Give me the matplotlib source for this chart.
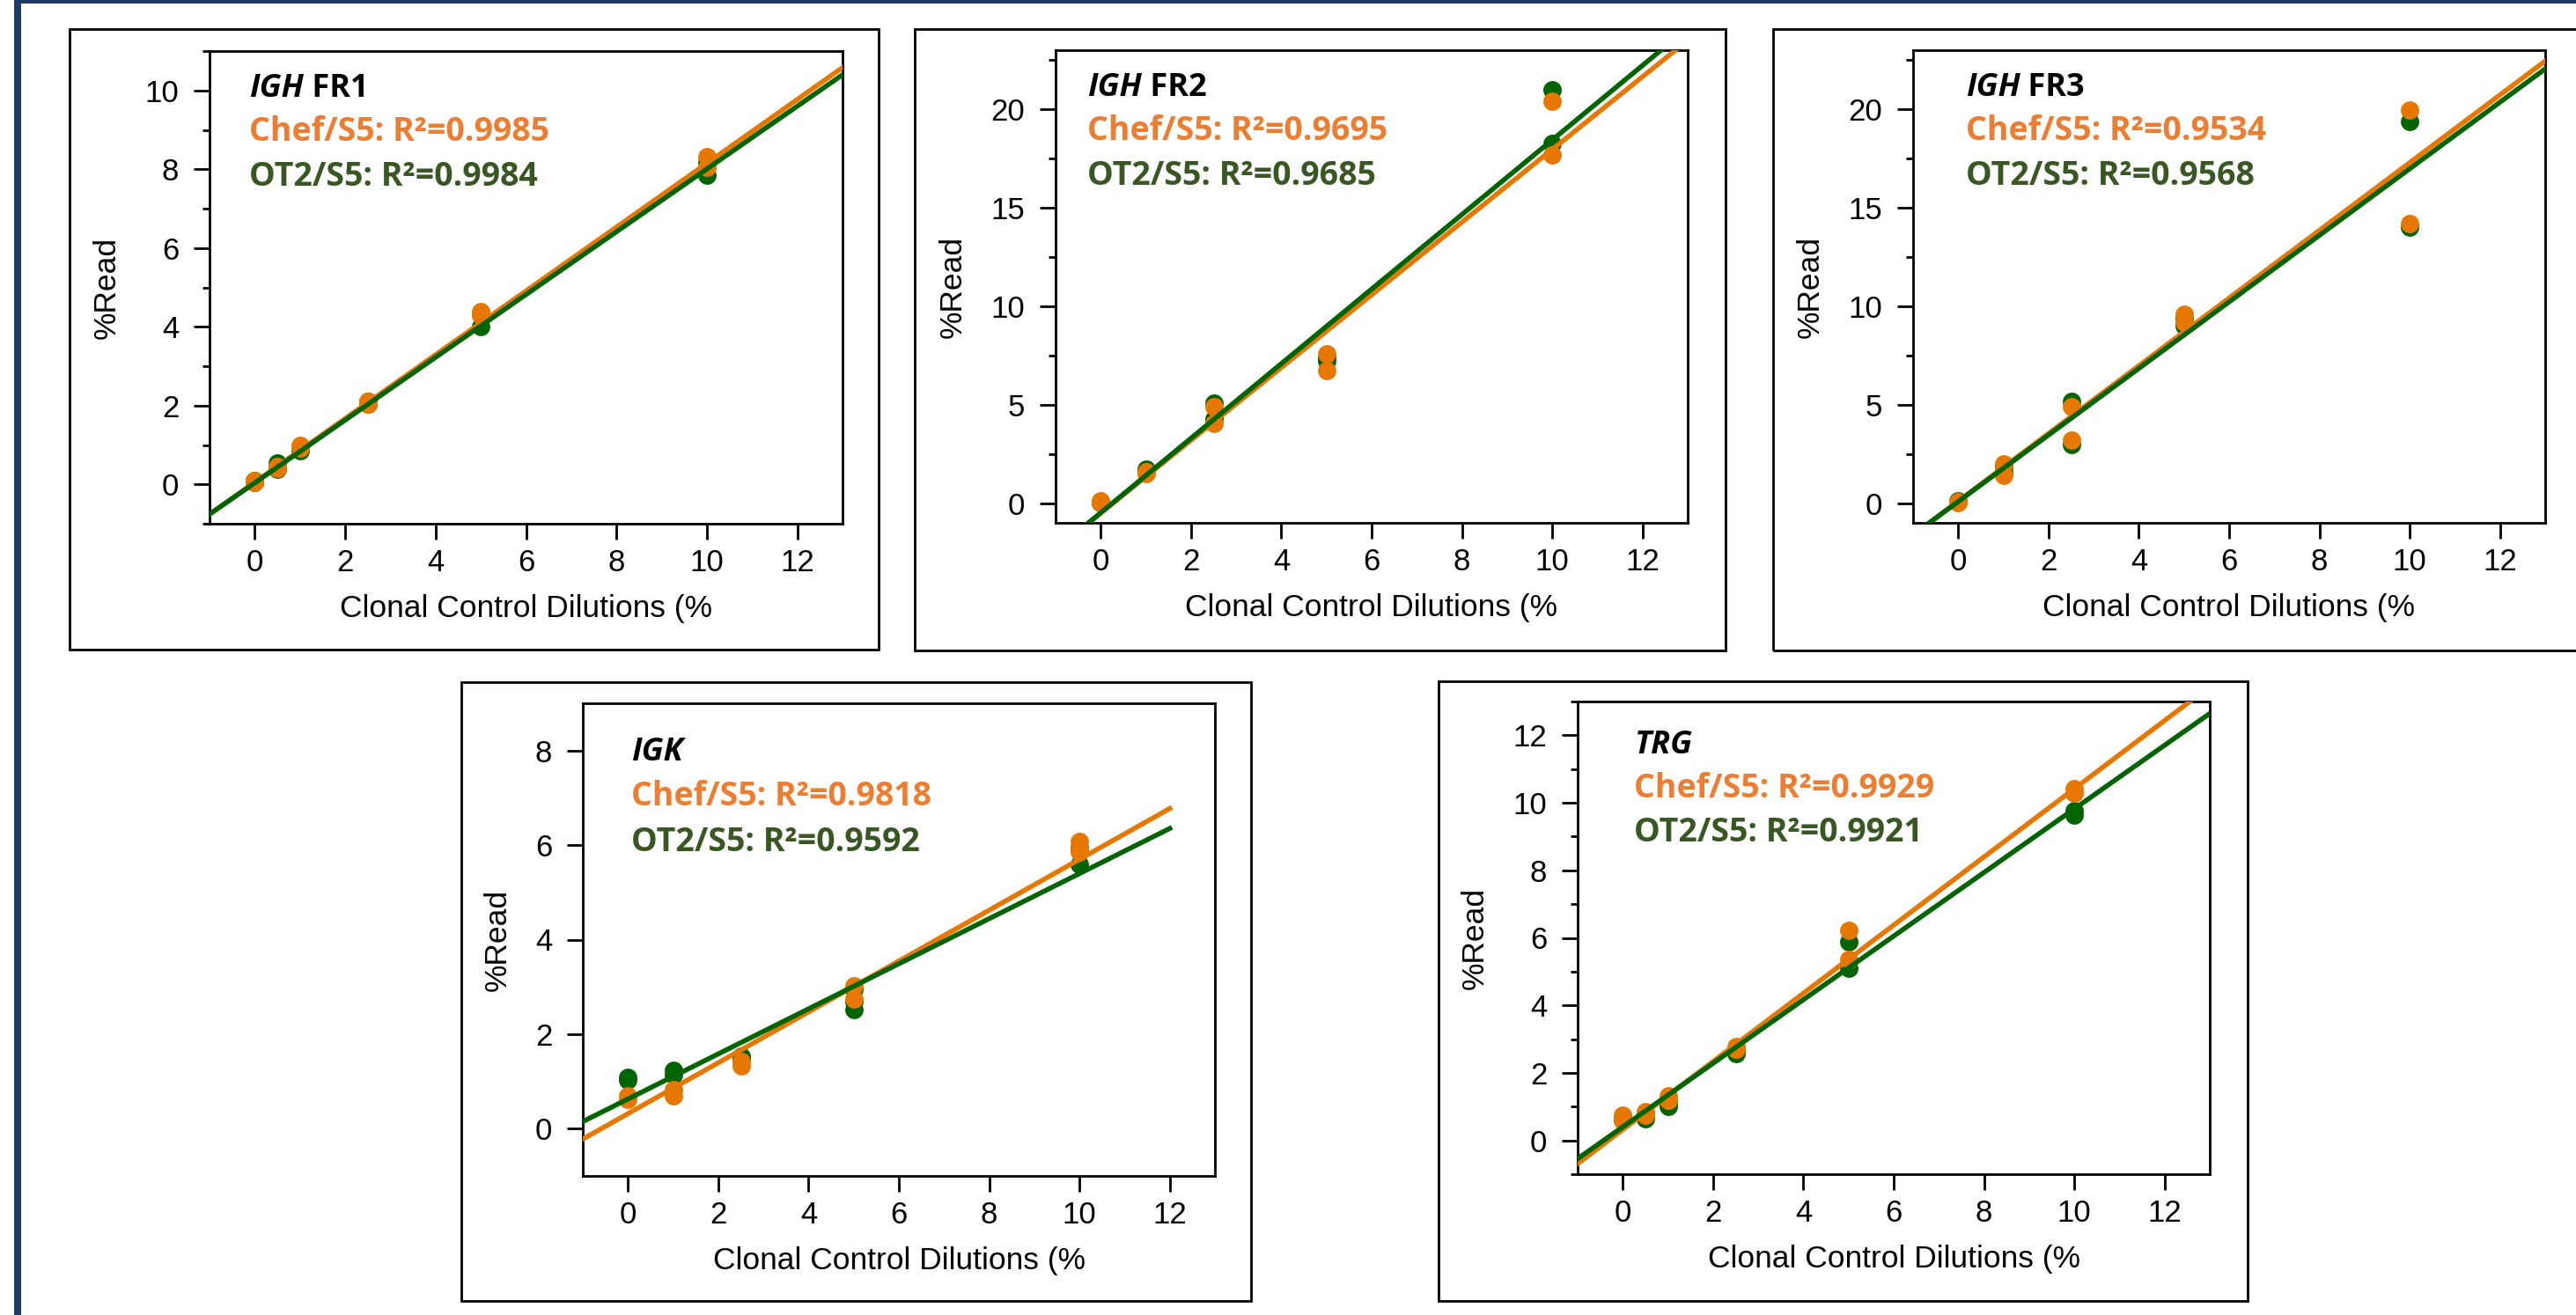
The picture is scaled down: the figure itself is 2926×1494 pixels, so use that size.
import numpy as np
import matplotlib.pyplot as plt
from matplotlib.patches import Rectangle
from matplotlib.ticker import MultipleLocator

# clonal control dilution (%) vs %Read, replicate points
fr1_chef_x = [0, 0, 0.5, 0.5, 1, 1, 2.5, 2.5, 5, 5, 10, 10]
fr1_chef_y = [0.05, 0.1, 0.45, 0.4, 0.98, 0.92, 2.05, 2.1, 4.38, 4.3, 8.32, 8.05]
fr1_ot2_x = [0, 0, 0.5, 0.5, 1, 1, 2.5, 2.5, 5, 5, 10, 10]
fr1_ot2_y = [0.1, 0.05, 0.54, 0.38, 0.86, 0.95, 2.05, 2.1, 4.32, 4.0, 8.18, 7.84]

fr2_chef_x = [0, 0, 1, 1, 2.5, 2.5, 5, 5, 10, 10]
fr2_chef_y = [0.04, 0.1, 1.49, 1.6, 4.9, 4.04, 7.57, 6.72, 20.43, 17.66]
fr2_ot2_x = [0, 0, 1, 1, 2.5, 2.5, 5, 5, 10, 10]
fr2_ot2_y = [0.05, 0.02, 1.73, 1.65, 5.06, 4.26, 7.4, 7.22, 21.0, 18.25]

fr3_chef_x = [0, 0, 1, 1, 2.5, 2.5, 5, 5, 10, 10]
fr3_chef_y = [0.05, 0.08, 2.0, 1.4, 4.88, 3.18, 9.58, 9.2, 19.96, 14.2]
fr3_ot2_x = [0, 0, 1, 1, 2.5, 2.5, 5, 5, 10, 10]
fr3_ot2_y = [0.1, 0.06, 1.9, 1.6, 5.15, 2.97, 9.36, 9.0, 19.4, 14.0]

igk_chef_x = [0, 0, 1, 1, 2.5, 2.5, 5, 5, 10, 10, 10]
igk_chef_y = [0.69, 0.62, 0.82, 0.69, 1.32, 1.42, 3.02, 2.75, 6.08, 5.92, 5.85]
igk_ot2_x = [0, 0, 1, 1, 2.5, 2.5, 5, 5, 5, 10, 10]
igk_ot2_y = [1.09, 1.03, 1.23, 1.14, 1.54, 1.5, 2.95, 2.68, 2.52, 5.94, 5.6]

trg_chef_x = [0, 0, 0.5, 0.5, 1, 1, 2.5, 2.5, 5, 5, 10, 10]
trg_chef_y = [0.75, 0.59, 0.84, 0.75, 1.32, 1.2, 2.79, 2.7, 6.22, 5.36, 10.43, 10.3]
trg_ot2_x = [0, 0, 0.5, 0.5, 1, 1, 2.5, 2.5, 5, 5, 10, 10]
trg_ot2_y = [0.69, 0.62, 0.8, 0.63, 1.0, 1.1, 2.58, 2.62, 5.87, 5.09, 9.76, 9.64]

# regression lines (slope, intercept) as drawn, and the reported R^2
fit_chef = [(0.81, 0.05), (1.846, -0.50), (1.719, 0.10), (0.538, 0.318), (1.0096, 0.32)]
fit_ot2 = [(0.797, 0.037), (1.893, -0.49), (1.690, 0.08), (0.477, 0.627), (0.942, 0.40)]
r2_chef = ['0.9985', '0.9695', '0.9534', '0.9818', '0.9929']
r2_ot2 = ['0.9984', '0.9685', '0.9568', '0.9592', '0.9921']

gene = ['IGH', 'IGH', 'IGH', 'IGK', 'TRG']
region = [' FR1', ' FR2', ' FR3', '', '']

chef_x = [fr1_chef_x, fr2_chef_x, fr3_chef_x, igk_chef_x, trg_chef_x]
chef_y = [fr1_chef_y, fr2_chef_y, fr3_chef_y, igk_chef_y, trg_chef_y]
ot2_x = [fr1_ot2_x, fr2_ot2_x, fr3_ot2_x, igk_ot2_x, trg_ot2_x]
ot2_y = [fr1_ot2_y, fr2_ot2_y, fr3_ot2_y, igk_ot2_y, trg_ot2_y]

# axis setup per panel: ylim top, major step, minor step, x end of fit line
ytop = [11, 23, 23, 9, 13]
ymajor = [2, 5, 5, 2, 2]
yminor = [1, 2.5, 2.5, None, 1]
line_end = [13, 13, 13, 12, 13]

ORANGE = '#E67700'
GREEN = '#006400'
TXT_ORANGE = '#ED7D31'
TXT_GREEN = '#385723'
NAVY = '#1F3A64'

W, H = 2926, 1494
plt.rcParams['font.family'] = ['Liberation Sans', 'DejaVu Sans']

# pixel boxes (x0, y0, x1, y1) of plot area and of the framing rectangle
ax_px = [(238, 58, 957, 595), (1199, 57, 1917, 594), (2173, 57, 2891, 594),
         (662, 799, 1380, 1336), (1792, 797, 2510, 1334)]
box_px = [(79, 33, 998, 738), (1039, 33, 1960, 739), (2014, 33, 2950, 739),
          (524, 775, 1421, 1478), (1634, 774, 2553, 1478)]
# text anchor (axes fraction): x, then baselines of title / chef / ot2
txt_pos = [(0.063, 0.903, 0.810, 0.715), (0.050, 0.903, 0.810, 0.715),
           (0.083, 0.903, 0.810, 0.715), (0.076, 0.879, 0.784, 0.687),
           (0.089, 0.891, 0.797, 0.703)]

fig = plt.figure(figsize=(W / 100, H / 100), dpi=100)

# dark blue slide edge (top and left)
fig.add_artist(Rectangle((16 / W, 1 - 4 / H), 1, 4 / H, transform=fig.transFigure,
                         fc=NAVY, ec='none'))
fig.add_artist(Rectangle((16 / W, 0), 8 / W, 1, transform=fig.transFigure,
                         fc=NAVY, ec='none'))

for i in range(5):
    bx0, by0, bx1, by1 = box_px[i]
    fig.add_artist(Rectangle((bx0 / W, 1 - by1 / H), (bx1 - bx0) / W, (by1 - by0) / H,
                             transform=fig.transFigure, fill=False, ec='black', lw=2))

    x0, y0, x1, y1 = ax_px[i]
    ax = fig.add_axes([x0 / W, 1 - y1 / H, (x1 - x0) / W, (y1 - y0) / H])

    ax.plot(ot2_x[i], ot2_y[i], 'o', color=GREEN, ms=15, mew=0, zorder=3)
    ax.plot(chef_x[i], chef_y[i], 'o', color=ORANGE, ms=15, mew=0, zorder=3)

    xs = np.array([-1, line_end[i]])
    m, b = fit_chef[i]
    ax.plot(xs, m * xs + b, color=ORANGE, lw=4.0, zorder=4)
    m, b = fit_ot2[i]
    ax.plot(xs, m * xs + b, color=GREEN, lw=4.0, zorder=4)

    ax.set_xlim(-1, 13)
    ax.set_ylim(-1, ytop[i])
    ax.xaxis.set_major_locator(MultipleLocator(2))
    ax.yaxis.set_major_locator(MultipleLocator(ymajor[i]))
    if yminor[i]:
        ax.yaxis.set_minor_locator(MultipleLocator(yminor[i]))
    ax.tick_params(which='major', length=13, width=2, labelsize=25)
    ax.tick_params(which='minor', length=6, width=2)
    ax.tick_params(axis='y', pad=12)
    ax.tick_params(axis='x', pad=7)
    for s in ax.spines.values():
        s.set_linewidth(2)

    ax.set_xlabel('Clonal Control Dilutions (%', fontsize=25.5, labelpad=14)
    ax.set_ylabel('%Read', fontsize=25.5, labelpad=19)

    tx, ty0, ty1, ty2 = txt_pos[i]
    t = ax.text(tx, ty0, gene[i], transform=ax.transAxes, fontfamily='Open Sans',
                fontweight='bold', fontstyle='italic', fontsize=26, va='baseline')
    if region[i]:
        ax.annotate(region[i], xy=(1, 0), xycoords=t, va='bottom',
                    fontfamily='Open Sans', fontweight='bold', fontsize=26)
    ax.text(tx, ty1, 'Chef/S5: R\u00b2=' + r2_chef[i], transform=ax.transAxes,
            fontfamily='Open Sans', fontweight='bold', fontsize=27,
            color=TXT_ORANGE, va='baseline')
    ax.text(tx, ty2, 'OT2/S5: R\u00b2=' + r2_ot2[i], transform=ax.transAxes,
            fontfamily='Open Sans', fontweight='bold', fontsize=27,
            color=TXT_GREEN, va='baseline')

fig.savefig('out.png', dpi=100)
